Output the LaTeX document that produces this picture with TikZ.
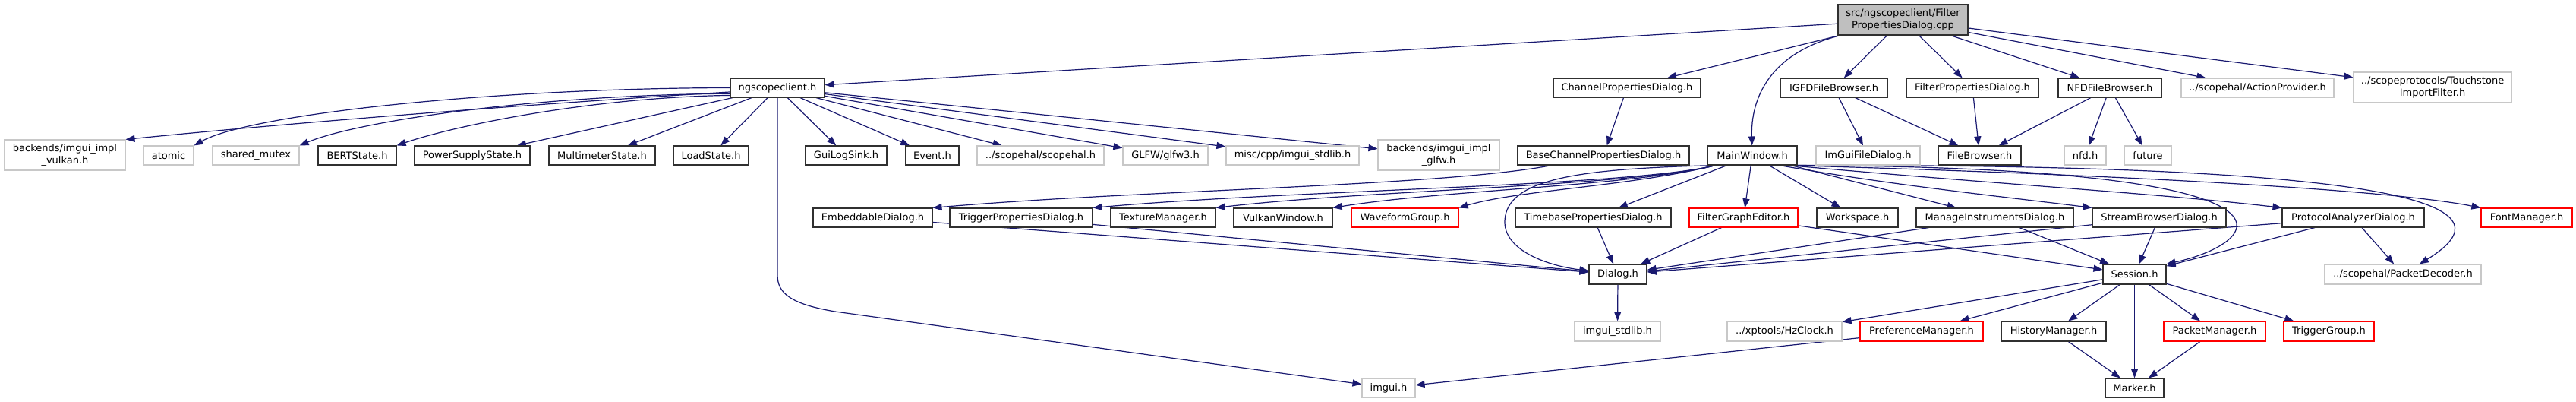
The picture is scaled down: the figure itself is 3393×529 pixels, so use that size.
\documentclass[tikz,border=0pt]{standalone}
\usepackage{fontspec}
\setmainfont{DejaVu Sans}
\usetikzlibrary{arrows.meta,backgrounds}
\definecolor{edgecol}{HTML}{191970}
\definecolor{extgray}{HTML}{C8C8C8}
\definecolor{docgray}{HTML}{303030}
\begin{document}
\begin{tikzpicture}[x=1pt,y=-1pt,
  box/.style={rectangle, inner sep=0pt, minimum height=25pt, line width=1.1pt,
    font=\fontsize{13pt}{16pt}\selectfont, align=center},
  doc/.style={box, draw=docgray, fill=white},
  ext/.style={box, draw=extgray, fill=white},
  trunc/.style={box, draw=red, fill=white},
  rootn/.style={box, draw=docgray, fill=black!25},
  edge/.style={-{Triangle[length=12pt,width=9pt]}, draw=edgecol, line width=1.2pt}]
\useasboundingbox (0,0) rectangle (3393,529);
% row 1
\node[rootn, minimum width=171pt, minimum height=40pt] (root) at (2506.5,26) {src/ngscopeclient/Filter\\PropertiesDialog.cpp};
% row 2
\node[doc, minimum width=124pt] (ngs) at (1024,115.5) {ngscopeclient.h};
\node[doc, minimum width=194pt] (cpd) at (2143,115.5) {ChannelPropertiesDialog.h};
\node[doc, minimum width=141pt] (igfd) at (2415.5,115.5) {IGFDFileBrowser.h};
\node[doc, minimum width=174pt] (fpd) at (2598,115.5) {FilterPropertiesDialog.h};
\node[doc, minimum width=136pt] (nfdb) at (2779,115.5) {NFDFileBrowser.h};
\node[ext, minimum width=201pt] (ap) at (2973.5,115.5) {../scopehal/ActionProvider.h};
\node[ext, minimum width=208pt, minimum height=40pt] (ts) at (3204,115) {../scopeprotocols/Touchstone\\ImportFilter.h};
% row 3
\node[ext, minimum width=159pt, minimum height=40pt] (vulkan) at (85.5,204) {backends/imgui\_impl\\\_vulkan.h};
\node[ext, minimum width=66pt] (atomic) at (222,204.5) {atomic};
\node[ext, minimum width=114pt] (smutex) at (337,204.5) {shared\_mutex};
\node[doc, minimum width=103pt] (bert) at (470.5,204.5) {BERTState.h};
\node[doc, minimum width=152pt] (psu) at (622,204.5) {PowerSupplyState.h};
\node[doc, minimum width=140pt] (mm) at (793,204.5) {MultimeterState.h};
\node[doc, minimum width=99pt] (load) at (936.5,204.5) {LoadState.h};
\node[doc, minimum width=107pt] (gls) at (1114.5,204.5) {GuiLogSink.h};
\node[doc, minimum width=70pt] (event) at (1228,204.5) {Event.h};
\node[ext, minimum width=167pt] (scopehal) at (1370.5,204.5) {../scopehal/scopehal.h};
\node[ext, minimum width=112pt] (glfw3) at (1535,204.5) {GLFW/glfw3.h};
\node[ext, minimum width=175pt] (misc) at (1702.5,204.5) {misc/cpp/imgui\_stdlib.h};
\node[ext, minimum width=160pt, minimum height=40pt] (glfwimpl) at (1895,204) {backends/imgui\_impl\\\_glfw.h};
\node[doc, minimum width=226pt] (bcpd) at (2112,204.5) {BaseChannelPropertiesDialog.h};
\node[doc, minimum width=118pt] (mw) at (2308,204.5) {MainWindow.h};
\node[ext, minimum width=137pt] (igfdlg) at (2460.5,204.5) {ImGuiFileDialog.h};
\node[doc, minimum width=109pt] (fb) at (2607.5,204.5) {FileBrowser.h};
\node[ext, minimum width=55pt] (nfd) at (2746.5,204.5) {nfd.h};
\node[ext, minimum width=62pt] (future) at (2829,204.5) {future};
% row 4
\node[doc, minimum width=157pt] (emb) at (1149.5,286.5) {EmbeddableDialog.h};
\node[doc, minimum width=188pt] (tpd) at (1345,286.5) {TriggerPropertiesDialog.h};
\node[doc, minimum width=138pt] (tm) at (1532,286.5) {TextureManager.h};
\node[doc, minimum width=130pt] (vw) at (1690,286.5) {VulkanWindow.h};
\node[trunc, minimum width=141pt] (wg) at (1850.5,286.5) {WaveformGroup.h};
\node[doc, minimum width=205pt] (tbpd) at (2098.5,286.5) {TimebasePropertiesDialog.h};
\node[trunc, minimum width=143pt] (fge) at (2296.5,286.5) {FilterGraphEditor.h};
\node[doc, minimum width=107pt] (ws) at (2446.5,286.5) {Workspace.h};
\node[doc, minimum width=207pt] (mid) at (2627.5,286.5) {ManageInstrumentsDialog.h};
\node[doc, minimum width=176pt] (sbd) at (2844,286.5) {StreamBrowserDialog.h};
\node[doc, minimum width=187pt] (pad) at (3099.5,286.5) {ProtocolAnalyzerDialog.h};
\node[trunc, minimum width=120pt] (fm) at (3328,286.5) {FontManager.h};
% row 5
\node[doc, minimum width=76pt, minimum height=26pt] (dlg) at (2131,361) {Dialog.h};
\node[doc, minimum width=83pt, minimum height=26pt] (ses) at (2811.5,361) {Session.h};
\node[ext, minimum width=206pt, minimum height=26pt] (pd) at (3165,361) {../scopehal/PacketDecoder.h};
% row 6
\node[ext, minimum width=113pt, minimum height=26pt] (istd) at (2130.5,436) {imgui\_stdlib.h};
\node[ext, minimum width=151pt, minimum height=26pt] (hz) at (2350.5,436) {../xptools/HzClock.h};
\node[trunc, minimum width=162pt, minimum height=26pt] (pm) at (2531,436) {PreferenceManager.h};
\node[doc, minimum width=138pt, minimum height=26pt] (hm) at (2705,436) {HistoryManager.h};
\node[trunc, minimum width=134pt, minimum height=26pt] (pkm) at (2917,436) {PacketManager.h};
\node[trunc, minimum width=119pt, minimum height=26pt] (tg) at (3067.5,436) {TriggerGroup.h};
% row 7
\node[ext, minimum width=70pt] (imgui) at (1829,510.5) {imgui.h};
\node[doc, minimum width=77pt] (marker) at (2811.5,510.5) {Marker.h};
% helper coordinates
\coordinate (b1) at (1024,362);
\coordinate (b2) at (1100,410);
\coordinate (b3) at (1982,290);
\begin{scope}[on background layer]
% from root
\draw[edge] (root) -- (ngs);
\draw[edge] (root) -- (cpd);
\draw[edge] (root) .. controls (2330,70) and (2306,130) .. (mw);
\draw[edge] (root) -- (igfd);
\draw[edge] (root) -- (fpd);
\draw[edge] (root) -- (nfdb);
\draw[edge] (root) -- (ap);
\draw[edge] (root) -- (ts);
% from ngscopeclient.h
\draw[edge] (ngs.185) .. controls (650,140) and (350,165) .. (vulkan.north east);
\draw[edge] (ngs.west) .. controls (650,116) and (330,150) .. (atomic.north east);
\draw[edge] (ngs.187) .. controls (700,125) and (470,160) .. (smutex.north east);
\draw[edge] (ngs.189) .. controls (780,128) and (600,165) .. (bert.north east);
\draw[edge] (ngs) -- (psu);
\draw[edge] (ngs) -- (mm);
\draw[edge] (ngs) -- (load);
\draw[edge] (ngs) -- (gls);
\draw[edge] (ngs) -- (event);
\draw[edge] (ngs) -- (scopehal);
\draw[edge] (ngs) -- (glfw3);
\draw[edge] (ngs) -- (misc);
\draw[edge] (ngs) -- (glfwimpl);
\draw[edge] (ngs) -- (b1) .. controls (1024,385) and (1040,400) .. (b2) -- (imgui);
% second level
\draw[edge] (cpd) -- (bcpd);
\draw[edge] (bcpd) .. controls (1900,245) and (1500,250) .. (emb.north east);
\draw[edge] (igfd) -- (igfdlg);
\draw[edge] (igfd) -- (fb);
\draw[edge] (fpd) -- (fb);
\draw[edge] (nfdb) -- (fb);
\draw[edge] (nfdb) -- (nfd);
\draw[edge] (nfdb) -- (future);
% from MainWindow.h
\draw[edge] (mw.195) .. controls (2080,222) and (1985,235) .. (b3) .. controls (1980,330) and (2040,350) .. (dlg);
\draw[edge] (mw.195) .. controls (2150,245) and (1700,250) .. (tpd.north east);
\draw[edge] (mw.195) .. controls (2150,245) and (1800,250) .. (tm.north east);
\draw[edge] (mw.195) .. controls (2150,245) and (1900,250) .. (vw.north east);
\draw[edge] (mw.195) .. controls (2150,245) and (2000,250) .. (wg.north east);
\draw[edge] (mw) -- (tbpd);
\draw[edge] (mw) -- (fge);
\draw[edge] (mw) -- (ws);
\draw[edge] (mw) -- (mid);
\draw[edge] (mw.340) .. controls (2500,245) and (2650,260) .. (sbd.north west);
\draw[edge] (mw.345) .. controls (2600,240) and (2850,255) .. (pad.north west);
\draw[edge] (mw.345) .. controls (2800,230) and (3150,250) .. (fm.north west);
\draw[edge] (mw.south east) .. controls (3080,220) and (2980,320) .. (ses.north east);
\draw[edge] (mw.south east) .. controls (3300,215) and (3280,290) .. (pd);
% row 4 to row 5
\draw[edge] (emb) -- (dlg);
\draw[edge] (tpd) -- (dlg);
\draw[edge] (tbpd) -- (dlg);
\draw[edge] (fge) -- (dlg);
\draw[edge] (fge) -- (ses);
\draw[edge] (mid) -- (dlg);
\draw[edge] (mid) -- (ses);
\draw[edge] (sbd) -- (dlg);
\draw[edge] (sbd) -- (ses);
\draw[edge] (pad) -- (dlg);
\draw[edge] (pad) -- (ses);
\draw[edge] (pad) -- (pd);
% lower levels
\draw[edge] (dlg) -- (istd);
\draw[edge] (ses) -- (hz);
\draw[edge] (ses) -- (pm);
\draw[edge] (ses) -- (hm);
\draw[edge] (ses) -- (marker);
\draw[edge] (ses) -- (pkm);
\draw[edge] (ses) -- (tg);
\draw[edge] (pm) -- (imgui);
\draw[edge] (hm) -- (marker);
\draw[edge] (pkm) -- (marker);
\end{scope}
\end{tikzpicture}
\end{document}
